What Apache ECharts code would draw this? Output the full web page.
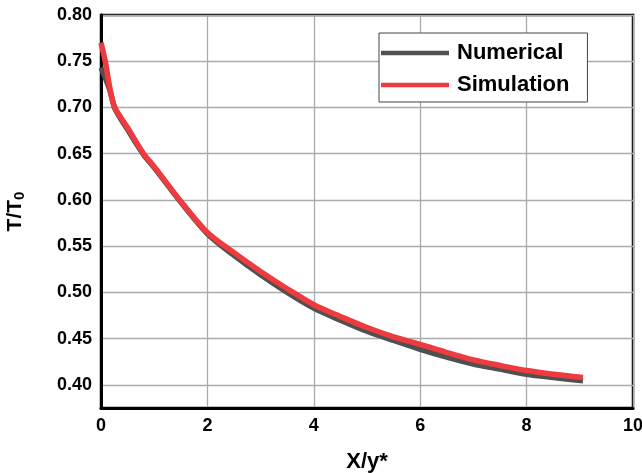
<!DOCTYPE html>
<html><head><meta charset="utf-8">
<script src="https://cdn.jsdelivr.net/npm/echarts@6/dist/echarts.min.js"></script>
<style>html,body{margin:0;padding:0;background:#fff}#c{width:642px;height:473px}</style>
</head><body><div id="c"></div>
<script>
const xNumerical = [0, 0.08, 0.17, 0.26, 0.5, 0.8, 1.0, 1.48, 2.0, 2.5, 3.0, 3.5, 4.0, 4.5, 5.0, 5.5, 6.0, 6.5, 7.0, 7.5, 8.0, 8.5, 9.06];
const yNumerical = [0.743, 0.732, 0.718, 0.699, 0.676, 0.649, 0.635, 0.599, 0.5635, 0.540, 0.519, 0.500, 0.483, 0.470, 0.458, 0.448, 0.4385, 0.430, 0.4225, 0.417, 0.4115, 0.408, 0.4045];
const xSimulation = [0, 0.08, 0.17, 0.26, 0.5, 0.8, 1.0, 1.48, 2.0, 2.5, 3.0, 3.5, 4.0, 4.5, 5.0, 5.5, 6.0, 6.5, 7.0, 7.5, 8.0, 8.5, 9.06];
const ySimulation = [0.770, 0.750, 0.720, 0.700, 0.678, 0.650, 0.636, 0.600, 0.5648, 0.543, 0.5227, 0.504, 0.4867, 0.474, 0.462, 0.452, 0.4438, 0.435, 0.427, 0.421, 0.4155, 0.4115, 0.408];
const yTicks = [0.40, 0.45, 0.50, 0.55, 0.60, 0.65, 0.70, 0.75, 0.80];
const seriesNames = ['Numerical', 'Simulation'];

const zip = (xs, ys) => xs.map((x, i) => [x, ys[i]]);
const font = 'Arial, "Liberation Sans", sans-serif';
const chart = echarts.init(document.getElementById('c'), null, {renderer: 'canvas'});
chart.setOption({
  animation: false,
  backgroundColor: '#fff',
  grid: {left: 101, top: 15, right: 9, bottom: 65, containLabel: false, outerBoundsMode: 'none',
    show: true, borderColor: '#000', borderWidth: 2.5, backgroundColor: 'transparent'},
  legend: {
    data: seriesNames,
    orient: 'vertical', left: 379, top: 33,
    backgroundColor: '#fff', borderColor: '#444', borderWidth: 1,
    padding: [9, 18, 6, 2],
    itemGap: 10,
    icon: 'rect', itemWidth: 68, itemHeight: 4.5,
    textStyle: {fontFamily: font, fontWeight: 'bold', fontSize: 22, lineHeight: 22, color: '#000', padding: [0, 0, 0, 3]}
  },
  xAxis: {
    type: 'value', min: 0, max: 10, interval: 2,
    name: 'X/y*', nameLocation: 'middle', nameGap: 43,
    nameTextStyle: {fontFamily: font, fontWeight: 'bold', fontSize: 22, color: '#000'},
    axisLine: {show: true, onZero: false, lineStyle: {color: '#000', width: 3}},
    axisTick: {show: false},
    axisLabel: {fontFamily: font, fontWeight: 'bold', fontSize: 18, color: '#000', margin: 9},
    splitLine: {show: true, lineStyle: {color: '#aaa', width: 1.3}}
  },
  yAxis: {
    type: 'value', min: 0.375, max: 0.8,
    name: '{a|T/T}{b|0}', nameLocation: 'middle', nameGap: 74, nameRotate: 90,
    nameTextStyle: {rich: {
      a: {fontFamily: font, fontWeight: 'bold', fontSize: 21, color: '#000'},
      b: {fontFamily: font, fontWeight: 'bold', fontSize: 15, color: '#000', padding: [8, 0, 0, 0]}
    }},
    axisLine: {show: true, onZero: false, lineStyle: {color: '#000', width: 3}},
    axisTick: {show: false, customValues: yTicks},
    axisLabel: {fontFamily: font, fontWeight: 'bold', fontSize: 18, color: '#000', margin: 9,
      customValues: yTicks, formatter: v => v.toFixed(2)},
    splitLine: {show: true, lineStyle: {color: '#aaa', width: 1.3}}
  },
  series: [
    {name: seriesNames[0], type: 'line', data: zip(xNumerical, yNumerical), smooth: 0.3, showSymbol: false,
      lineStyle: {color: '#505050', width: 5.5}, itemStyle: {color: '#505050'}, z: 2},
    {name: seriesNames[1], type: 'line', data: zip(xSimulation, ySimulation), smooth: 0.3, showSymbol: false,
      lineStyle: {color: '#ee3b3f', width: 5.5}, itemStyle: {color: '#ee3b3f'}, z: 3}
  ]
});
</script></body></html>
